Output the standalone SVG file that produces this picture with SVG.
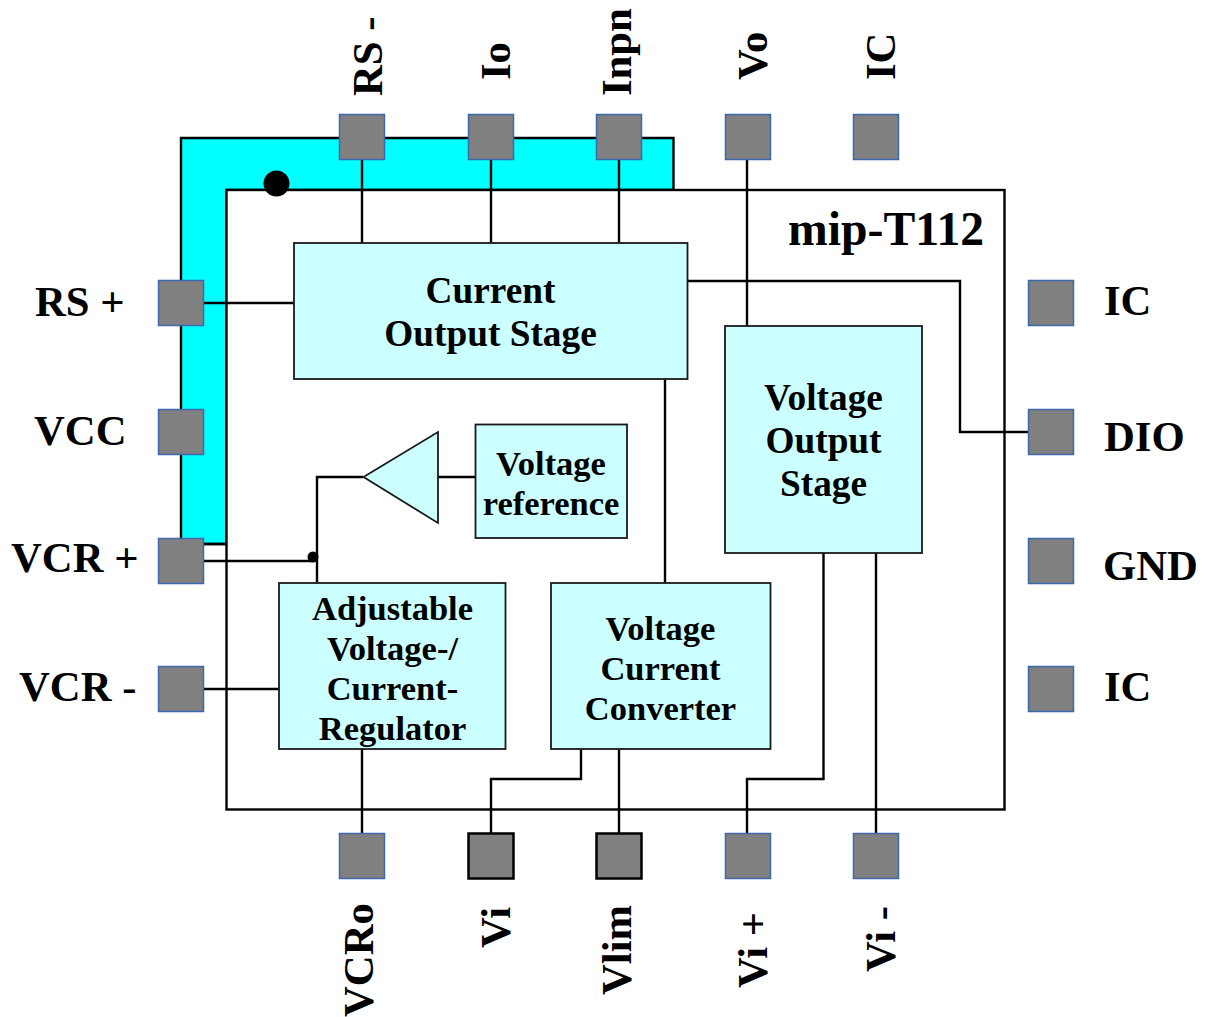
<svg xmlns="http://www.w3.org/2000/svg" width="1209" height="1017" viewBox="0 0 1209 1017">
<style>
text{font-family:"Liberation Serif","Times New Roman",serif;font-weight:bold;fill:#000}
.l{font-size:42.7px}
.b{font-size:37.3px;text-anchor:middle}
.a{font-size:34.5px;text-anchor:middle}
.pin{fill:#808080;stroke:#3e68ae;stroke-width:1.5}
.pk{fill:#808080;stroke:#000;stroke-width:2.5}
.box{fill:#ccffff;stroke:#1a1a1a;stroke-width:1.8}
.w{fill:none;stroke:#000;stroke-width:2.4}
</style>
<g id="package">
<path d="M181 544V138H673.500V190H226.500V544Z" fill="#00ffff" stroke="#000" stroke-width="2.400"/>
<rect x="226.500" y="190" width="778" height="619.500" fill="#fff" stroke="#000" stroke-width="2.400"/>
<path d="M181 544H226" class="w"/>
<circle cx="276.500" cy="183.500" r="13" fill="#000"/>
</g>
<g id="connectors">
<path class="w" d="M362 160V243M491 160V243M619 160V243M747 160V326"/>
<path class="w" d="M204 303H294"/>
<path class="w" d="M688 281H960V432H1028"/>
<path class="w" d="M665 379V583"/>
<path class="w" d="M204 561H313"/>
<path class="w" d="M317 583V477H363"/>
<path class="w" d="M438 477H476"/>
<path class="w" d="M204 689H279"/>
<path class="w" d="M362 749V833"/>
<path class="w" d="M581 749V779H491V833"/>
<path class="w" d="M619 749V833"/>
<path class="w" d="M823.500 553V779H747V833"/>
<path class="w" d="M876 553V833"/>
<circle cx="313" cy="557" r="5.500" fill="#000"/>
</g>
<g id="current-output-stage"><rect class="box" x="294" y="243" width="393.500" height="136"/>
<text class="b" x="490.500" y="303">Current</text><text class="b" x="490.500" y="346">Output Stage</text></g>
<g id="voltage-output-stage"><rect class="box" x="725" y="326" width="197" height="227"/>
<text class="b" x="823.500" y="410">Voltage</text><text class="b" x="823.500" y="453">Output</text><text class="b" x="823.500" y="496">Stage</text></g>
<g id="voltage-reference"><rect class="box" x="475.500" y="424.500" width="151.500" height="113.500"/>
<text class="a" x="551" y="474.500">Voltage</text><text class="a" x="551" y="514.500">reference</text></g>
<g id="amplifier"><path class="box" d="M363.500 477L438 432V523Z"/></g>
<g id="regulator"><rect class="box" x="279" y="583" width="226.500" height="166"/>
<text class="a" x="392.500" y="619.500">Adjustable</text><text class="a" x="392.500" y="659.500">Voltage-/</text><text class="a" x="392.500" y="699.500">Current-</text><text class="a" x="392.500" y="739.500">Regulator</text></g>
<g id="converter"><rect class="box" x="551" y="583" width="219.500" height="166"/>
<text class="a" x="660.500" y="639.500">Voltage</text><text class="a" x="660.500" y="679.500">Current</text><text class="a" x="660.500" y="719.500">Converter</text></g>
<text id="title" x="788" y="245" font-size="47.700">mip-T112</text>
<g id="pin-rs-minus"><rect class="pin" x="339.500" y="114.500" width="45" height="45"/><text class="l" transform="translate(381.500 96) rotate(-90)">RS -</text></g>
<g id="pin-io"><rect class="pin" x="468.500" y="114.500" width="45" height="45"/><text class="l" transform="translate(510 80) rotate(-90)">Io</text></g>
<g id="pin-inpn"><rect class="pin" x="596.500" y="114.500" width="45" height="45"/><text class="l" transform="translate(630.500 96) rotate(-90)">Inpn</text></g>
<g id="pin-vo"><rect class="pin" x="725.500" y="114.500" width="45" height="45"/><text class="l" transform="translate(767 80) rotate(-90)">Vo</text></g>
<g id="pin-ic-top"><rect class="pin" x="853.500" y="114.500" width="45" height="45"/><text class="l" transform="translate(895 80) rotate(-90)">IC</text></g>
<g id="pin-rs-plus"><rect class="pin" x="158.500" y="280.500" width="45" height="45"/><text class="l" x="35" y="316">RS +</text></g>
<g id="pin-vcc"><rect class="pin" x="158.500" y="409.500" width="45" height="45"/><text class="l" x="34" y="445">VCC</text></g>
<g id="pin-vcr-plus"><rect class="pin" x="158.500" y="538.500" width="45" height="45"/><text class="l" x="11" y="572">VCR +</text></g>
<g id="pin-vcr-minus"><rect class="pin" x="158.500" y="666.500" width="45" height="45"/><text class="l" x="19" y="701">VCR -</text></g>
<g id="pin-ic-r1"><rect class="pin" x="1028.500" y="280.500" width="45" height="45"/><text class="l" x="1104" y="315">IC</text></g>
<g id="pin-dio"><rect class="pin" x="1028.500" y="409.500" width="45" height="45"/><text class="l" x="1104" y="451">DIO</text></g>
<g id="pin-gnd"><rect class="pin" x="1028.500" y="538.500" width="45" height="45"/><text class="l" x="1103" y="580">GND</text></g>
<g id="pin-ic-r2"><rect class="pin" x="1028.500" y="666.500" width="45" height="45"/><text class="l" x="1104" y="701">IC</text></g>
<g id="pin-vcro"><rect class="pin" x="339.500" y="833.500" width="45" height="45"/><text class="l" transform="translate(373 1017) rotate(-90)">VCRo</text></g>
<g id="pin-vi"><rect class="pk" x="468.500" y="833.500" width="45" height="45"/><text class="l" transform="translate(510 948) rotate(-90)">Vi</text></g>
<g id="pin-vlim"><rect class="pk" x="596.500" y="833.500" width="45" height="45"/><text class="l" transform="translate(631 995) rotate(-90)">Vlim</text></g>
<g id="pin-vi-plus"><rect class="pin" x="725.500" y="833.500" width="45" height="45"/><text class="l" transform="translate(767 988) rotate(-90)">Vi +</text></g>
<g id="pin-vi-minus"><rect class="pin" x="853.500" y="833.500" width="45" height="45"/><text class="l" transform="translate(895 972) rotate(-90)">Vi -</text></g>
</svg>
